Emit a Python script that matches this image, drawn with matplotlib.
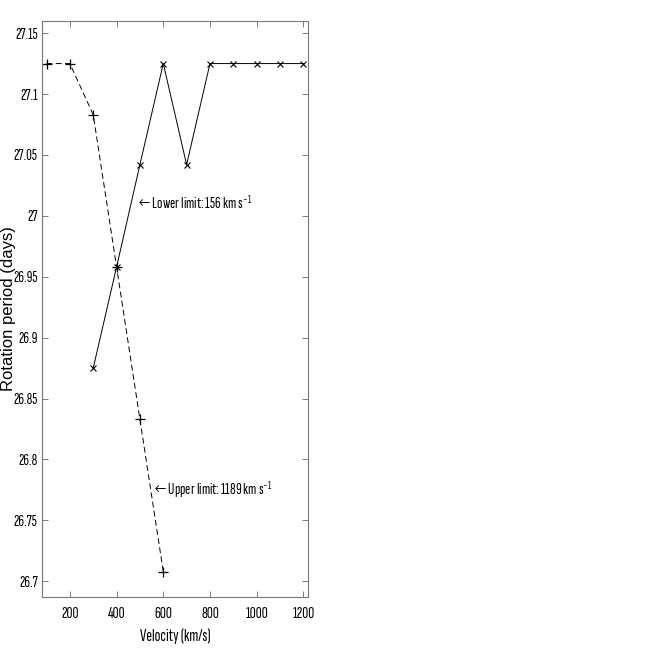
import numpy as np
import matplotlib.pyplot as plt

cond = ['Sofia Sans Extra Condensed', 'Fira Sans Extra Condensed', 'DejaVu Sans']
plt.rcParams['font.family'] = cond
plt.rcParams['mathtext.fontset'] = 'custom'
plt.rcParams['mathtext.rm'] = 'Sofia Sans Extra Condensed'
plt.rcParams['mathtext.it'] = 'Sofia Sans Extra Condensed'

# upper limit series (dashed, '+')
v_upper = [100, 200, 300, 400, 500, 600]
p_upper = [27.125, 27.125, 27.083, 26.958, 26.833, 26.708]

# lower limit series (solid, 'x')
v_lower = [300, 400, 500, 600, 700, 800, 900, 1000, 1100, 1200]
p_lower = [26.875, 26.958, 27.042, 27.125, 27.042, 27.125, 27.125, 27.125, 27.125, 27.125]

xticks = [200, 400, 600, 800, 1000, 1200]
yticks = [26.7, 26.75, 26.8, 26.85, 26.9, 26.95, 27, 27.05, 27.1, 27.15]
ylabels = ["26.7", "26.75", "26.8", "26.85", "26.9", "26.95", "27", "27.05", "27.1", "27.15"]

fig = plt.figure(figsize=(6.54, 6.54), dpi=100)
ax = fig.add_axes([0.064, 0.087, 0.407, 0.881])

ax.plot(v_upper, p_upper, color="black", linestyle="--", linewidth=0.7,
        marker="+", markersize=7, markeredgewidth=0.9, dashes=(6, 3.5))
ax.plot(v_lower, p_lower, color="black", linestyle="-", linewidth=0.7,
        marker="x", markersize=5, markeredgewidth=0.8)

ax.text(488, 27.011, "← Lower limit: 156 km s$^{-1}$", fontsize=11.5,
        va="center", ha="left")
ax.text(558, 26.775, "← Upper limit: 1189 km s$^{-1}$", fontsize=11.5,
        va="center", ha="left")

ax.set_xlim(80, 1220)
ax.set_ylim(26.687, 27.16)
ax.set_xticks(xticks)
ax.set_xticklabels([str(t) for t in xticks])
ax.set_yticks(yticks)
ax.set_yticklabels(ylabels)
ax.tick_params(direction="in", top=True, right=True, labelsize=11.5,
               length=4, width=0.6, color="#666666", pad=3)
ax.tick_params(axis="x", labelsize=12, pad=7)
for s in ax.spines.values():
    s.set_color("#777777")
    s.set_linewidth(0.8)

ax.set_xlabel("Velocity (km/s)", fontsize=12.5, labelpad=5)
ax.set_ylabel("Rotation period (days)", fontsize=12,
              family=["Liberation Sans", "DejaVu Sans"])
ax.yaxis.set_label_coords(-0.127, 0.5)
ax.yaxis.label.set_va("center")

fig.savefig("out.png", dpi=100)
